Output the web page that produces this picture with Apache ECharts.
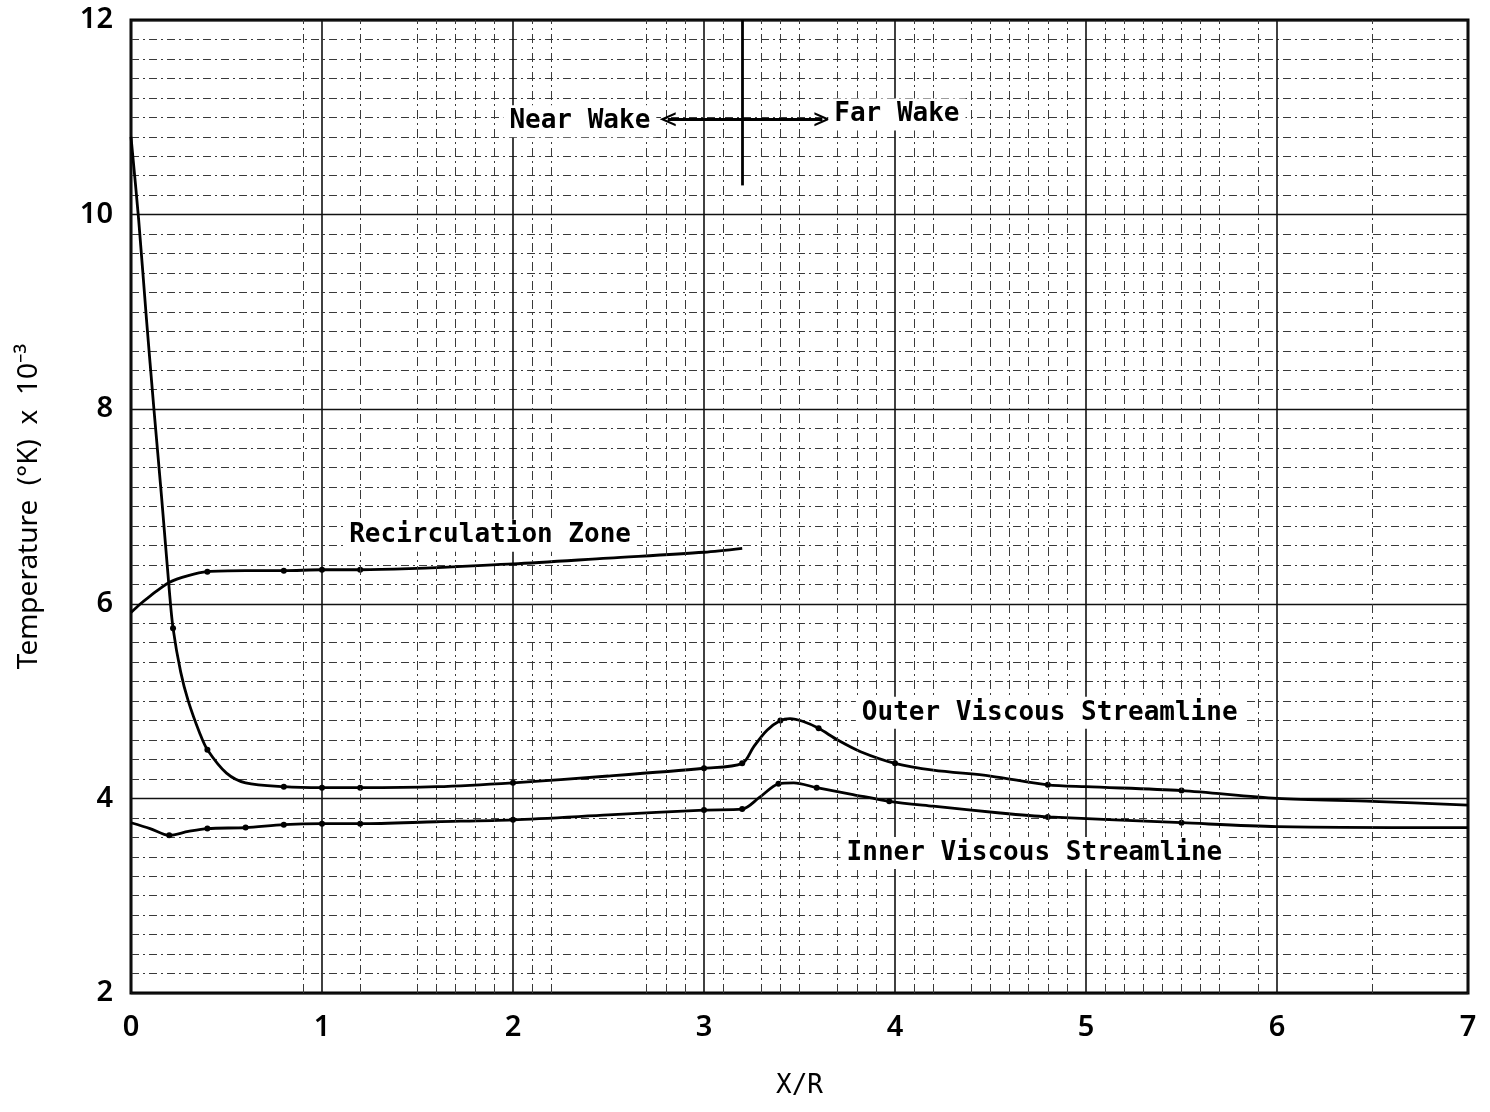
<!DOCTYPE html>
<html>
<head>
<meta charset="utf-8">
<title>Wake temperature along X/R</title>
<script src="https://cdn.jsdelivr.net/npm/echarts@6/dist/echarts.min.js"></script>
<style>
  html, body { margin: 0; padding: 0; background: #fff; }
  #chart { width: 1490px; height: 1112px; }
</style>
</head>
<body>
<div id="chart"></div>
<script>
// Outer viscous streamline (steep drop off the base, bump near X/R = 3.4)
const outerX = [0, 0.04, 0.08, 0.12, 0.16, 0.2, 0.22, 0.26, 0.3, 0.36, 0.4, 0.5, 0.6, 0.8, 1.0, 1.2, 1.6, 2.0, 2.5, 3.0, 3.2, 3.26, 3.33, 3.4, 3.45, 3.52, 3.6, 3.7, 3.82, 4.0, 4.2, 4.5, 4.8, 5.0, 5.5, 6.0, 6.5, 7.0];
const outerT = [10.8, 9.95, 8.95, 8.0, 7.1, 6.15, 5.75, 5.3, 5.0, 4.67, 4.5, 4.26, 4.16, 4.12, 4.11, 4.11, 4.12, 4.16, 4.23, 4.31, 4.36, 4.53, 4.70, 4.80, 4.82, 4.79, 4.72, 4.60, 4.48, 4.36, 4.29, 4.23, 4.14, 4.12, 4.08, 4.00, 3.97, 3.93];
const outerDots = [0.22, 0.4, 0.8, 1.0, 1.2, 2.0, 3.0, 3.2, 3.4, 3.6, 4.0, 4.8, 5.5];

// Inner viscous streamline
const innerX = [0, 0.1, 0.2, 0.3, 0.4, 0.6, 0.8, 1.0, 1.2, 1.6, 2.0, 2.5, 3.0, 3.2, 3.29, 3.39, 3.47, 3.59, 3.78, 3.97, 4.2, 4.55, 4.8, 5.5, 6.0, 7.0];
const innerT = [3.75, 3.69, 3.62, 3.66, 3.69, 3.70, 3.73, 3.74, 3.74, 3.76, 3.78, 3.83, 3.88, 3.89, 4.01, 4.15, 4.16, 4.11, 4.04, 3.97, 3.92, 3.85, 3.81, 3.75, 3.71, 3.70];
const innerDots = [0.2, 0.4, 0.6, 0.8, 1.0, 1.2, 2.0, 3.0, 3.2, 3.39, 3.59, 3.97, 4.8, 5.5];

// Recirculation zone (near wake only)
const recircX = [0, 0.05, 0.1, 0.2, 0.3, 0.4, 0.6, 0.8, 1.0, 1.2, 2.0, 2.5, 3.0, 3.2];
const recircT = [5.91, 6.0, 6.08, 6.22, 6.29, 6.33, 6.34, 6.34, 6.35, 6.35, 6.41, 6.47, 6.53, 6.57];
const recircDots = [0.4, 0.8, 1.0, 1.2];

// Axis ticks
const xTicks = [0, 1, 2, 3, 4, 5, 6, 7];
const yTicks = [2, 4, 6, 8, 10, 12];

// Fine rulings of the graph paper between the integer X/R lines
const paperX = [0.9, 1.2, 1.5, 1.6, 1.7, 1.8, 1.9, 2.1, 2.2, 2.7, 2.8, 2.9, 3.1, 3.3, 3.4, 3.5, 3.7, 3.8, 3.9, 4.1, 4.2, 4.4, 4.5, 4.6, 4.7, 4.8, 4.9, 5.1, 5.2, 5.3, 5.4, 5.5, 5.6, 5.7, 5.9, 6.5];

// Near / far wake boundary
const wakeBoundaryX = 3.2;
const wakeBoundaryTop = 12;
const wakeBoundaryBottom = 10.3;
const wakeArrowFrom = 2.81;
const wakeArrowTo = 3.62;
const wakeArrowT = 10.98;

// Text annotations: [text, X/R, T]
const notes = [
  ['Recirculation Zone', 1.88, 6.70],
  ['Near Wake', 2.35, 10.96],
  ['Far Wake', 4.01, 11.03],
  ['Outer Viscous Streamline', 4.81, 4.88],
  ['Inner Viscous Streamline', 4.73, 3.44]
];

// [x, T] pairs; only the plotted stations listed in `dots` carry a marker
const pairs = (xs, ys, dots) => xs.map((x, i) => ({
  value: [x, ys[i]],
  symbolSize: dots.indexOf(x) >= 0 ? 6 : 0
}));

const monoFont = '"DejaVu Sans Mono", "Liberation Mono", monospace';
const tickFont = '"Noto Sans", "DejaVu Sans", sans-serif';
const chevron = 'path://M0,12 L6,0 L12,12 L10,12 L6,4 L2,12 Z';

const curveStyle = {
  type: 'line',
  smooth: 0.3,
  symbol: 'circle',
  showSymbol: true,
  itemStyle: { color: '#000' },
  lineStyle: { color: '#000', width: 2.8 },
  z: 4,
  silent: true
};

const chart = echarts.init(document.getElementById('chart'), null, { renderer: 'canvas' });

chart.setOption({
  animation: false,
  backgroundColor: '#fff',
  grid: {
    left: 131, top: 20, width: 1337, height: 973,
    show: true, borderColor: '#000', borderWidth: 3, backgroundColor: 'transparent'
  },
  xAxis: {
    type: 'value',
    min: 0, max: 7, interval: 1,
    name: 'X/R',
    nameLocation: 'middle',
    nameGap: 80,
    nameTextStyle: { fontFamily: monoFont, fontSize: 26, color: '#000' },
    axisLine: { show: false },
    axisTick: { show: false },
    axisLabel: {
      margin: 20, fontFamily: tickFont, fontSize: 29, fontWeight: 600, color: '#000',
      customValues: xTicks
    },
    splitLine: { show: true, lineStyle: { color: '#111', width: 1.6 } }
  },
  yAxis: {
    type: 'value',
    min: 2, max: 12, interval: 2,
    name: 'Temperature  (°K)  x  10⁻³',
    nameLocation: 'middle',
    nameGap: 88,
    nameRotate: 90,
    nameTextStyle: { fontFamily: tickFont, fontSize: 28, color: '#000' },
    axisLine: { show: false },
    axisTick: { show: false },
    axisLabel: {
      margin: 18, fontFamily: tickFont, fontSize: 29, fontWeight: 600, color: '#000',
      customValues: yTicks
    },
    splitLine: { show: true, lineStyle: { color: '#111', width: 1.4 } },
    minorTick: { show: false, splitNumber: 10 },
    minorSplitLine: { show: true, lineStyle: { color: '#3a3a3a', width: 1, type: [8, 4, 2, 4] } }
  },
  series: [
    {
      // graph-paper rulings
      type: 'line',
      data: [],
      silent: true,
      z: 1,
      markLine: {
        silent: true,
        symbol: 'none',
        animation: false,
        label: { show: false },
        lineStyle: { color: '#3a3a3a', width: 1, type: [9, 4, 2, 4] },
        data: paperX.map(x => ({ xAxis: x }))
      }
    },
    Object.assign({ name: 'Outer Viscous Streamline', data: pairs(outerX, outerT, outerDots) }, curveStyle),
    Object.assign({ name: 'Inner Viscous Streamline', data: pairs(innerX, innerT, innerDots) }, curveStyle),
    Object.assign({ name: 'Recirculation Zone', data: pairs(recircX, recircT, recircDots) }, curveStyle),
    {
      // wake boundary and double arrow
      type: 'line',
      data: [],
      silent: true,
      z: 7,
      markLine: {
        silent: true,
        animation: false,
        precision: 4,
        label: { show: false },
        lineStyle: { color: '#000', width: 2.8, type: 'solid', opacity: 1 },
        data: [
          [
            { coord: [wakeBoundaryX, wakeBoundaryTop], symbol: 'none' },
            { coord: [wakeBoundaryX, wakeBoundaryBottom], symbol: 'none' }
          ],
          [
            { coord: [wakeArrowFrom, wakeArrowT], symbol: chevron, symbolSize: [14, 16] },
            { coord: [wakeArrowTo, wakeArrowT], symbol: chevron, symbolSize: [14, 16] }
          ]
        ]
      }
    },
    {
      // text annotations
      type: 'line',
      data: [],
      silent: true,
      z: 6,
      markPoint: {
        silent: true,
        animation: false,
        symbol: 'circle',
        symbolSize: 1,
        itemStyle: { color: 'rgba(0,0,0,0)' },
        label: {
          show: true,
          position: 'inside',
          fontFamily: monoFont,
          fontSize: 26,
          fontWeight: 'bold',
          color: '#000',
          backgroundColor: '#fff',
          padding: [3, 6],
          formatter: p => p.name
        },
        data: notes.map(n => ({ name: n[0], coord: [n[1], n[2]] }))
      }
    }
  ]
});
</script>
</body>
</html>
